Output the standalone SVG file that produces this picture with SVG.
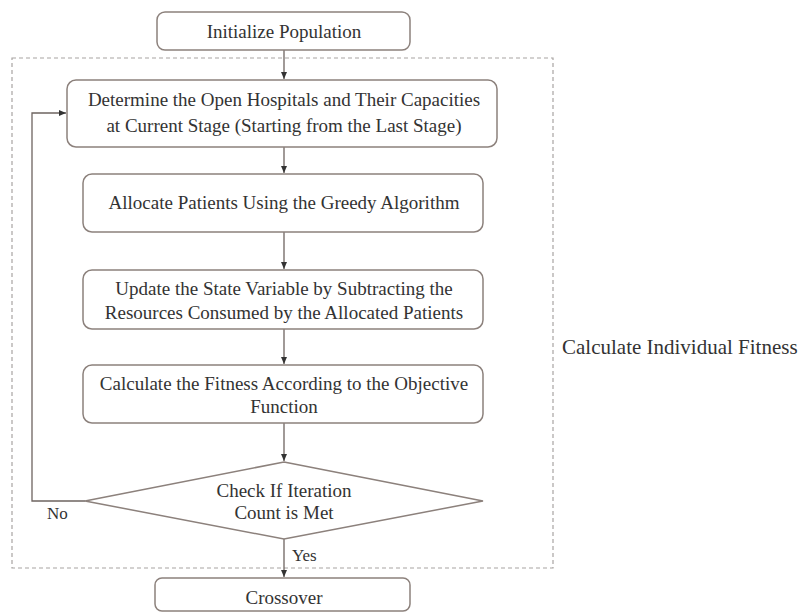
<svg xmlns="http://www.w3.org/2000/svg" width="801" height="613" viewBox="0 0 801 613">
<style>
.box{fill:#fff;stroke:#8c817c;stroke-width:1.5}
.t{font-family:"Liberation Serif","Times New Roman",serif;font-size:19px;fill:#333;text-anchor:middle}
.tl{font-family:"Liberation Serif","Times New Roman",serif;font-size:17px;fill:#333}
.big{font-family:"Liberation Serif","Times New Roman",serif;font-size:21px;fill:#333}
.c{fill:none;stroke:#6e6460;stroke-width:1.3}
.dash{fill:none;stroke:#a8a4a2;stroke-width:1.2;stroke-dasharray:4,3}
</style>
<defs>
<marker id="ar" markerWidth="8" markerHeight="8" refX="7" refY="4" orient="auto" markerUnits="userSpaceOnUse">
<path d="M0,1 L7,4 L0,7 Z" fill="#333"/>
</marker>
</defs>
<rect width="801" height="613" fill="#fff"/>
<rect class="dash" x="12" y="58" width="541" height="510"/>
<g id="connectors">
<line class="c" x1="284" y1="50" x2="284" y2="79" marker-end="url(#ar)"/>
<line class="c" x1="284" y1="147" x2="284" y2="173" marker-end="url(#ar)"/>
<line class="c" x1="284" y1="232" x2="284" y2="269" marker-end="url(#ar)"/>
<line class="c" x1="284" y1="329" x2="284" y2="364" marker-end="url(#ar)"/>
<line class="c" x1="284" y1="423" x2="284" y2="461" marker-end="url(#ar)"/>
<line class="c" x1="284" y1="539" x2="284" y2="577" marker-end="url(#ar)"/>
<polyline class="c" points="85,501 32,501 32,113 66,113" marker-end="url(#ar)"/>
<text class="tl" x="47" y="519">No</text>
<text class="tl" x="292" y="561">Yes</text>
</g>
<g id="init">
<rect class="box" x="157" y="12" width="253" height="38" rx="8"/>
<text class="t" x="284" y="38">Initialize Population</text>
</g>
<g id="determine">
<rect class="box" x="67" y="80" width="430" height="67" rx="9"/>
<text class="t" x="284" y="106">Determine the Open Hospitals and Their Capacities</text>
<text class="t" x="284" y="132">at Current Stage (Starting from the Last Stage)</text>
</g>
<g id="allocate">
<rect class="box" x="83" y="174" width="400" height="58" rx="9"/>
<text class="t" x="284" y="209">Allocate Patients Using the Greedy Algorithm</text>
</g>
<g id="update">
<rect class="box" x="83" y="270" width="400" height="59" rx="9"/>
<text class="t" x="284" y="295">Update the State Variable by Subtracting the</text>
<text class="t" x="284" y="319">Resources Consumed by the Allocated Patients</text>
</g>
<g id="fitness">
<rect class="box" x="83" y="365" width="400" height="58" rx="9"/>
<text class="t" x="284" y="390">Calculate the Fitness According to the Objective</text>
<text class="t" x="284" y="413">Function</text>
</g>
<g id="check">
<polygon class="box" points="284,462 483,501 284,539 85,501"/>
<text class="t" x="284" y="497">Check If Iteration</text>
<text class="t" x="284" y="519">Count is Met</text>
</g>
<g id="crossover">
<rect class="box" x="155" y="578" width="255" height="33" rx="7"/>
<text class="t" x="284" y="604">Crossover</text>
</g>
<g id="label">
<text class="big" x="562" y="354">Calculate Individual Fitness</text>
</g>
</svg>
